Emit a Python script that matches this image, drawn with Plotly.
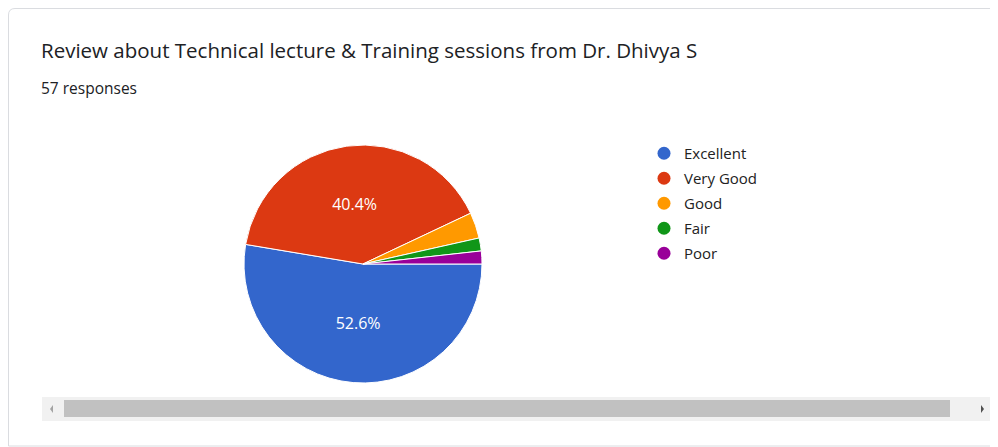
import plotly.graph_objects as go

categories = ["Excellent", "Very Good", "Good", "Fair", "Poor"]
counts = [30, 23, 2, 1, 1]
colors = ["#3366cc", "#dc3912", "#ff9900", "#109618", "#990099"]
title_text = "Review about Technical lecture &amp; Training sessions from Dr. Dhivya S"
subtitle_text = "57 responses"

W, H = 998, 447
OFF = 8  # page body margin


def px(x):
    return (x - OFF) / W


def py(y):
    return 1 - (y - OFF) / H


FONT = "Open Sans, Roboto, Arial"

total = sum(counts)
templates = ["%{percent:.1%}" if c / total > 0.1 else "" for c in counts]

fig = go.Figure()
fig.add_trace(go.Pie(
    labels=categories,
    values=counts,
    sort=False,
    direction="clockwise",
    rotation=90,
    marker=dict(colors=colors, line=dict(color="white", width=1)),
    texttemplate=templates,
    textposition="inside",
    insidetextorientation="horizontal",
    textfont=dict(color="white", size=16, family=FONT),
    showlegend=False,
    domain=dict(x=[px(244), px(482)], y=[py(383), py(145)]),
    hoverinfo="label+percent",
))

for cat, col in zip(categories, colors):
    fig.add_trace(go.Scatter(
        x=[None], y=[None], mode="markers", name=cat,
        marker=dict(color=col, size=13, symbol="circle"),
        legendgroup=cat, showlegend=True,
    ))

shapes = []
# card border
shapes.append(dict(type="path", xref="paper", yref="paper",
                   path=f"M {px(1020)},{py(8.5)} L {px(15)},{py(8.5)} Q {px(8.5)},{py(8.5)} {px(8.5)},{py(15)} "
                        f"L {px(8.5)},{py(446)} L {px(1020)},{py(446)}",
                   line=dict(color="#dadce0", width=1), fillcolor="rgba(0,0,0,0)", layer="below"))
# scrollbar track
shapes.append(dict(type="rect", xref="paper", yref="paper",
                   x0=px(42), x1=px(994), y0=py(397), y1=py(421),
                   fillcolor="#f1f1f1", line=dict(width=0), layer="below"))
# thumb
shapes.append(dict(type="rect", xref="paper", yref="paper",
                   x0=px(64), x1=px(950), y0=py(400), y1=py(417),
                   fillcolor="#c1c1c1", line=dict(width=0), layer="below"))
# arrows
shapes.append(dict(type="path", xref="paper", yref="paper",
                   path=f"M {px(50)},{py(409)} L {px(53)},{py(405)} L {px(53)},{py(413)} Z",
                   fillcolor="#a3a3a3", line=dict(width=0)))
shapes.append(dict(type="path", xref="paper", yref="paper",
                   path=f"M {px(984)},{py(409)} L {px(981)},{py(405)} L {px(981)},{py(413)} Z",
                   fillcolor="#505050", line=dict(width=0)))

fig.update_layout(
    width=W, height=H,
    margin=dict(l=0, r=0, t=0, b=0),
    paper_bgcolor="white", plot_bgcolor="white",
    xaxis=dict(visible=False), yaxis=dict(visible=False),
    shapes=shapes,
    showlegend=True,
    legend=dict(x=px(644), y=py(137), xanchor="left", yanchor="top",
                font=dict(family=FONT, size=15, color="#222222"),
                tracegroupgap=2.5, traceorder="grouped",
                itemwidth=30, bgcolor="rgba(0,0,0,0)"),
    annotations=[
        dict(text=title_text, xref="paper", yref="paper", x=px(39), y=py(50),
             xanchor="left", yanchor="middle", showarrow=False,
             font=dict(family=FONT, size=20.5, color="#202124")),
        dict(text=subtitle_text, xref="paper", yref="paper", x=px(39), y=py(88),
             xanchor="left", yanchor="middle", showarrow=False,
             font=dict(family=FONT, size=15.5, color="#202124")),
    ],
)

fig.write_html("out.html")
